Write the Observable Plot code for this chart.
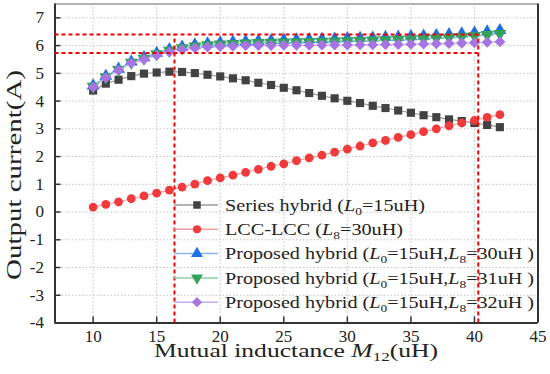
<!DOCTYPE html>
<html><head><meta charset="utf-8">
<script src="https://cdn.jsdelivr.net/npm/d3@7"></script>
<script src="https://cdn.jsdelivr.net/npm/@observablehq/plot@0.6"></script>
<style>body{margin:0;background:#fff;} svg{display:block;}</style>
</head><body><div id="chart"></div>
<script>
// ---- data ----
const mutual = [10,11,12,13,14,15,16,17,18,19,20,21,22,23,24,25,26,27,28,29,30,31,32,33,34,35,36,37,38,39,40,41,42];
const seriesHybrid = [4.38,4.63,4.77,4.90,4.99,5.03,5.06,5.05,5.01,4.95,4.89,4.82,4.75,4.66,4.58,4.48,4.39,4.29,4.19,4.10,4.01,3.93,3.83,3.75,3.66,3.58,3.49,3.42,3.34,3.28,3.21,3.14,3.06];
const lccLcc = [0.18,0.28,0.37,0.48,0.58,0.68,0.79,0.90,1.01,1.13,1.23,1.33,1.43,1.54,1.65,1.74,1.85,1.95,2.05,2.16,2.27,2.38,2.49,2.58,2.69,2.79,2.90,3.00,3.11,3.21,3.30,3.41,3.51];
const proposed30 = [4.55,4.90,5.16,5.42,5.57,5.73,5.86,5.95,6.03,6.07,6.10,6.13,6.15,6.17,6.18,6.20,6.21,6.22,6.23,6.24,6.26,6.27,6.28,6.30,6.31,6.33,6.35,6.37,6.40,6.43,6.46,6.50,6.55];
const proposed31 = [4.53,4.87,5.13,5.39,5.54,5.70,5.82,5.91,5.98,6.02,6.05,6.07,6.09,6.10,6.11,6.12,6.13,6.14,6.15,6.16,6.17,6.18,6.19,6.20,6.22,6.23,6.25,6.27,6.29,6.32,6.35,6.39,6.43];
const proposed32 = [4.50,4.84,5.11,5.37,5.50,5.65,5.77,5.86,5.91,5.95,5.97,5.98,6.00,6.00,6.00,6.01,6.01,6.01,6.02,6.02,6.02,6.03,6.03,6.04,6.04,6.05,6.06,6.07,6.08,6.09,6.10,6.12,6.14];
const refY = [6.4, 5.73];
const refX = [16.4, 40.3];
const xTicks = [10,15,20,25,30,35,40,45];
const yTicks = [-4,-3,-2,-1,0,1,2,3,4,5,6,7];
const xDomain = [7,45];
const yDomain = [-4,7.5];

// legend labels: segments [text, style]
const legendLabels = [
  [["Series hybrid (",""],["L","i"],["0","sub"],["=15uH)",""]],
  [["LCC-LCC (",""],["L","i"],["8","sub"],["=30uH)",""]],
  [["Proposed hybrid (",""],["L","i"],["0","sub"],["=15uH,",""],["L","i"],["8","sub"],["=30uH )",""]],
  [["Proposed hybrid (",""],["L","i"],["0","sub"],["=15uH,",""],["L","i"],["8","sub"],["=31uH )",""]],
  [["Proposed hybrid (",""],["L","i"],["0","sub"],["=15uH,",""],["L","i"],["8","sub"],["=32uH )",""]]
];

// ---- styles ----
const styles = [
  {values: seriesHybrid, fill:"#424242", line:"#9a9a9a", symbol:"square", d3sym:d3.symbolSquare, rotate:0, r:4.6},
  {values: lccLcc, fill:"#f03a3c", line:"#f5a0a0", symbol:"circle", d3sym:d3.symbolCircle, rotate:0, r:4.4},
  {values: proposed30, fill:"#1f6fe0", line:"#8ab4ee", symbol:"triangle", d3sym:d3.symbolTriangle, rotate:0, r:4.8},
  {values: proposed31, fill:"#33a05c", line:"#8fd0a6", symbol:"triangle", d3sym:d3.symbolTriangle, rotate:180, r:4.8},
  {values: proposed32, fill:"#a675e2", line:"#c9acf0", symbol:"square", d3sym:d3.symbolSquare, rotate:45, r:4.4}
];
const legendTextLen = [200, 178, 309, 309, 309];

const FONT = "'Liberation Serif','Times New Roman',serif";

const seriesMarks = styles.flatMap(s => {
  const rows = mutual.map((m,i) => ({M:m, I:s.values[i]}));
  return [
    Plot.line(rows, {x:"M", y:"I", stroke:s.line, strokeWidth:1.2}),
    Plot.dot(rows, {x:"M", y:"I", symbol:s.symbol, fill:s.fill, r:s.r, rotate:s.rotate, stroke:"none"})
  ];
});

const chart = Plot.plot({
  width:550, height:374,
  marginLeft:54.5, marginRight:12.5, marginTop:3.5, marginBottom:51.5,
  style:{fontFamily:FONT, fontSize:"17px", background:"#fff", color:"#222", overflow:"visible"},
  x:{domain:xDomain, label:null},
  y:{domain:yDomain, label:null},
  marks:[
    Plot.gridX(xTicks.filter(t => t < xDomain[1]), {stroke:"#c4c4c4", strokeOpacity:1, strokeDasharray:"1.5,2"}),
    Plot.gridY(yTicks.filter(t => t > yDomain[0]), {stroke:"#c4c4c4", strokeOpacity:1, strokeDasharray:"1.5,2"}),
    Plot.axisX(xTicks, {tickSize:6, tickPadding:0.5, fontSize:17, fontFamily:FONT, fill:"#222", tickFormat:d=>String(d)}),
    Plot.axisY(yTicks, {tickSize:6, tickPadding:5, fontSize:17, fontFamily:FONT, fill:"#222", tickFormat:d=>String(d)}),
    ...seriesMarks,
    Plot.ruleY([yDomain[1]], {stroke:"#9a9a9a", strokeWidth:1.5}),
    Plot.ruleX([xDomain[1]], {stroke:"#333", strokeWidth:2}),
    Plot.ruleX([xDomain[0]], {stroke:"#333", strokeWidth:2}),
    Plot.ruleY([yDomain[0]], {stroke:"#333", strokeWidth:2}),
    Plot.ruleY(refY, {y:d=>d, x1:xDomain[0], x2:refX[1], stroke:"#f00000", strokeWidth:2, strokeDasharray:"4,3", ariaLabel:"ref-lines-h"}),
    Plot.ruleX(refX, {x:d=>d, y1:yDomain[0], y2:refY[0], stroke:"#f00000", strokeWidth:2, strokeDasharray:"4,3", ariaLabel:"ref-lines-v"})
  ]
});
document.getElementById("chart").appendChild(chart);

const svg = d3.select(chart);
// inward ticks
svg.selectAll('g[aria-label="y-axis tick"] path').attr("d","M0,0L6,0").attr("stroke","#333").attr("stroke-width",1.5);
svg.selectAll('g[aria-label="x-axis tick"] path').attr("d","M0,0L0,-6").attr("stroke","#333").attr("stroke-width",1.5);

// legend
const lg = svg.append("g").attr("font-family", FONT).attr("font-size", 16.5).attr("fill","#222").attr("text-anchor","start");
legendLabels.forEach((segs, i) => {
  const s = styles[i];
  const cy = 205 + i*24.3;
  lg.append("line").attr("x1",174).attr("x2",218).attr("y1",cy).attr("y2",cy).attr("stroke",s.line).attr("stroke-width",1.5);
  lg.append("path").attr("d", d3.symbol(s.d3sym, Math.PI*s.r*s.r*0.85)())
    .attr("transform",`translate(197,${cy}) rotate(${s.rotate})`).attr("fill",s.fill);
  const t = lg.append("text").attr("x",225).attr("y",cy+5.7).attr("text-anchor","start")
    .attr("textLength", legendTextLen[i]).attr("lengthAdjust","spacingAndGlyphs");
  let prevSub = false;
  segs.forEach(([txt, st]) => {
    const ts = t.append("tspan").text(txt);
    if (st === "i") ts.attr("font-style","italic");
    if (st === "sub") { ts.attr("font-size", 11).attr("dy", 4); prevSub = true; }
    else if (prevSub) { ts.attr("dy", -4); prevSub = false; }
  });
});

// axis labels
const xl = svg.append("text").attr("x",154).attr("y",356.5).attr("text-anchor","start")
  .attr("font-family",FONT).attr("font-size",18).attr("fill","#222")
  .attr("textLength",284).attr("lengthAdjust","spacingAndGlyphs");
xl.append("tspan").text("Mutual inductance ");
xl.append("tspan").text("M").attr("font-style","italic");
xl.append("tspan").text("12").attr("font-size",12).attr("dy",4);
xl.append("tspan").text("(uH)").attr("dy",-4);

svg.append("text").attr("transform","translate(21,175) rotate(-90)").attr("text-anchor","middle")
  .attr("font-family",FONT).attr("font-size",20).attr("fill","#222")
  .attr("textLength",210).attr("lengthAdjust","spacingAndGlyphs").text("Output current(A)");

// reference lines on top
svg.selectAll('g[aria-label="ref-lines-h"], g[aria-label="ref-lines-v"]').each(function(){ chart.appendChild(this); });
</script>
</body></html>
